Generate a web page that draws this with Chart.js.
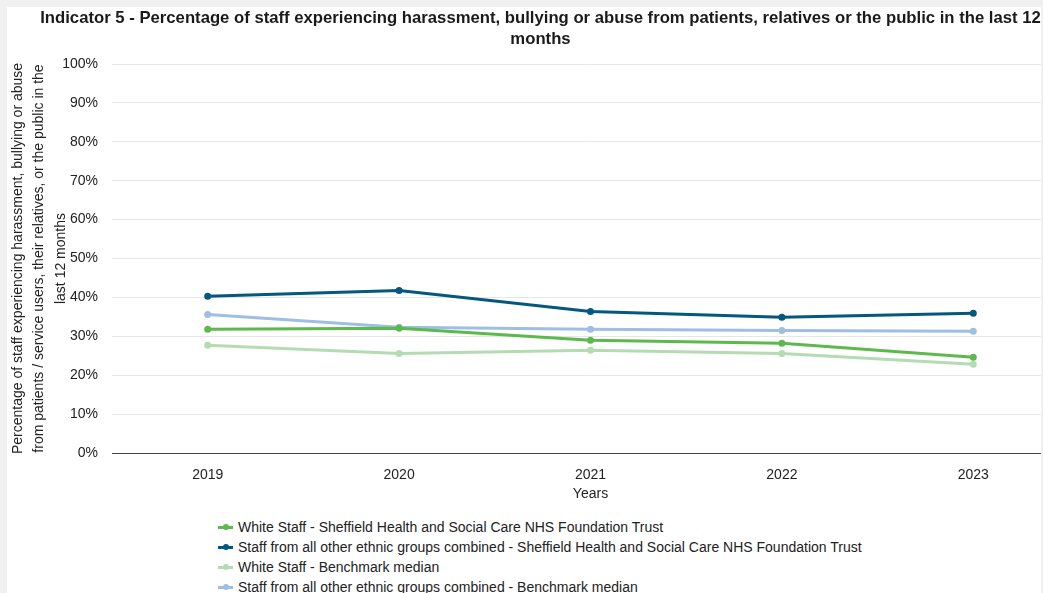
<!DOCTYPE html>
<html>
<head>
<meta charset="utf-8">
<script src="https://cdn.jsdelivr.net/npm/chart.js@4.4.1/dist/chart.umd.min.js"></script>
<style>
  html, body { margin:0; padding:0; background:#f0f0f0; width:1043px; height:593px; overflow:hidden; }
  #panel { position:absolute; left:7px; top:7px; width:1034px; height:600px; background:#fff; overflow:hidden; }
  #wrap { position:absolute; left:0; top:0; width:1067px; height:496px; }
  #legend { position:absolute; left:211px; top:510px; font-family:"Liberation Sans", Arial, sans-serif; font-size:14px; color:#222; }
  .row { height:20px; line-height:20px; white-space:nowrap; display:flex; align-items:center; }
  .mk { position:relative; width:15px; height:3px; margin-right:5px; }
  .mk .ln { position:absolute; left:0; top:0; width:15px; height:3px; }
  .mk .dt { position:absolute; left:4.5px; top:-1.5px; width:6px; height:6px; border-radius:50%; }
</style>
</head>
<body>
<div id="panel">
  <div id="wrap"><canvas id="c"></canvas></div>
  <div id="legend"></div>
</div>
<script>
const years = ["2019", "2020", "2021", "2022", "2023"];
const whiteTrust = [31.8, 32.1, 29.0, 28.2, 24.6];
const otherTrust = [40.3, 41.8, 36.4, 34.9, 35.9];
const whiteBench = [27.7, 25.6, 26.4, 25.6, 22.8];
const otherBench = [35.6, 32.3, 31.8, 31.5, 31.3];
const yTicks = [0, 10, 20, 30, 40, 50, 60, 70, 80, 90, 100];
const seriesNames = [
  "White Staff - Sheffield Health and Social Care NHS Foundation Trust",
  "Staff from all other ethnic groups combined - Sheffield Health and Social Care NHS Foundation Trust",
  "White Staff - Benchmark median",
  "Staff from all other ethnic groups combined - Benchmark median"
];
const colors = ["#5cb94c", "#03587f", "#b4dcb2", "#9ebfe2"];
const values = [whiteTrust, otherTrust, whiteBench, otherBench];

const FONT = "'Liberation Sans', Arial, sans-serif";
const datasets = values.map((v, i) => ({
  label: seriesNames[i],
  data: v,
  borderColor: colors[i],
  backgroundColor: colors[i],
  borderWidth: 3,
  pointRadius: 2,
  pointHoverRadius: 2,
  tension: 0,
  fill: false
}));

const chart = new Chart(document.getElementById('c'), {
  type: 'line',
  data: { labels: years, datasets },
  options: {
    responsive: true,
    maintainAspectRatio: false,
    animation: false,
    layout: { padding: { left: 0, right: 0, top: 0, bottom: 0 } },
    plugins: {
      legend: { display: false },
      tooltip: { enabled: false },
      title: {
        display: true,
        text: ["Indicator 5 - Percentage of staff experiencing harassment, bullying or abuse from patients, relatives or the public in the last 12", "months"],
        color: "#1a1a1a",
        font: { family: FONT, size: 16.7, weight: 'bold', lineHeight: '21px' },
        padding: { top: 1, bottom: 14 }
      }
    },
    scales: {
      x: {
        offset: true,
        grid: { display: false, drawTicks: false },
        border: { display: true, color: "#444", width: 1 },
        ticks: { color: "#222", font: { family: FONT, size: 14 }, padding: 14 },
        title: { display: true, text: "Years", color: "#222", font: { family: FONT, size: 14 }, padding: { top: 0, bottom: 0 } },
        afterFit: (s) => { s.height = 50; }
      },
      y: {
        min: 0, max: 100,
        afterBuildTicks: (axis) => { axis.ticks = yTicks.map(v => ({ value: v })); },
        grid: { color: "#e6e6e6", drawTicks: false, lineWidth: 1 },
        border: { display: false },
        ticks: { color: "#222", font: { family: FONT, size: 14 }, padding: 14, callback: (v) => v + "%" },
        title: {
          display: true,
          text: ["Percentage of staff experiencing harassment, bullying or abuse", "from patients / service users, their relatives, or the public in the", "last 12 months"],
          color: "#222",
          font: { family: FONT, size: 14, lineHeight: '21.5px' },
          padding: { top: 0, bottom: 0 }
        },
        afterFit: (s) => { s.width = 105; }
      }
    }
  }
});

const lg = document.getElementById('legend');
chart.data.datasets.forEach(ds => {
  const row = document.createElement('div');
  row.className = 'row';
  row.innerHTML = '<span class="mk"><span class="ln" style="background:' + ds.borderColor + '"></span><span class="dt" style="background:' + ds.borderColor + '"></span></span><span></span>';
  row.lastChild.textContent = ds.label;
  lg.appendChild(row);
});
</script>
</body>
</html>
